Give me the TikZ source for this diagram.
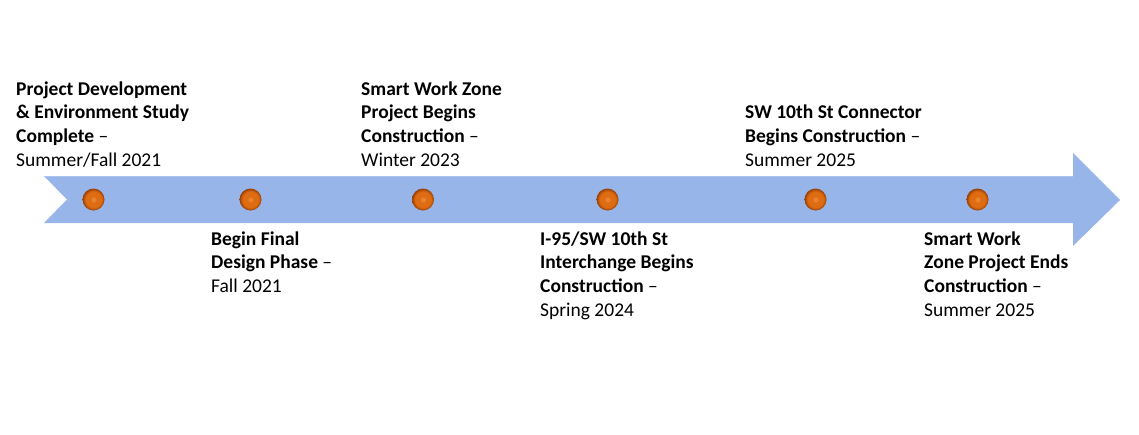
\documentclass[tikz,border=0pt]{standalone}
\usepackage{fontspec}
\setmainfont{Carlito}
\usetikzlibrary{shadings}
\definecolor{arrowblue}{RGB}{151,181,232}
\definecolor{arrowedge}{RGB}{170,196,238}
\definecolor{dotlight}{RGB}{240,150,70}
\definecolor{dotmid}{RGB}{222,108,18}
\definecolor{dotdark}{RGB}{150,62,5}
\pgfdeclareradialshading{dotshade}{\pgfpoint{0bp}{0bp}}{%
  color(0bp)=(dotmid);
  color(3bp)=(dotlight);
  color(6bp)=(dotmid);
  color(18bp)=(dotmid);
  color(25bp)=(dotdark);
  color(50bp)=(dotdark)}
\tikzset{
  milestone/.style={circle, minimum size=22pt, inner sep=0pt, shading=dotshade},
  label text/.style={anchor=base west, align=left, inner sep=0pt,
    font=\fontsize{19.5}{23.8}\selectfont, text=black},
}
\begin{document}
\begin{tikzpicture}[x=1pt,y=-1pt]
\useasboundingbox (0,0) rectangle (1139,434);
\fill[white] (0,0) rectangle (1139,434);
% arrow
\fill[arrowblue] (44,176) -- (1073,176) -- (1073,153) -- (1120,200) -- (1073,246) -- (1073,223)
  -- (44,223) -- (67,199.5) -- cycle;
\draw[arrowedge, line width=1pt] (45,176.5) -- (1072.5,176.5);
% milestones
\node[milestone] (d1) at (93.5,199.5) {};
\node[milestone] (d2) at (250.5,199.5) {};
\node[milestone] (d3) at (423,199.5) {};
\node[milestone] (d4) at (607.5,199.5) {};
\node[milestone] (d5) at (815.5,199.5) {};
\node[milestone] (d6) at (977.5,199.5) {};
% labels above (base = last line's baseline)
\node[label text] (t1) at (16,166.4) {\textbf{Project Development}\\\textbf{\& Environment Study}\\\textbf{Complete} –\\Summer/Fall 2021};
\node[label text] (t2) at (361,166.4) {\textbf{Smart Work Zone}\\\textbf{Project Begins}\\\textbf{Construction} –\\Winter 2023};
\node[label text] (t3) at (745,166.4) {\textbf{SW 10th St Connector}\\\textbf{Begins Construction} –\\Summer 2025};
% labels below
\node[label text] (b1) at (211,292.6) {\textbf{Begin Final}\\\textbf{Design Phase} –\\Fall 2021};
\node[label text] (b2) at (540,316.4) {\textbf{I-95/SW 10th St}\\\textbf{Interchange Begins}\\\textbf{Construction} –\\Spring 2024};
\node[label text] (b3) at (924,316.4) {\textbf{Smart Work}\\\textbf{Zone Project Ends}\\\textbf{Construction} –\\Summer 2025};
\end{tikzpicture}
\end{document}
